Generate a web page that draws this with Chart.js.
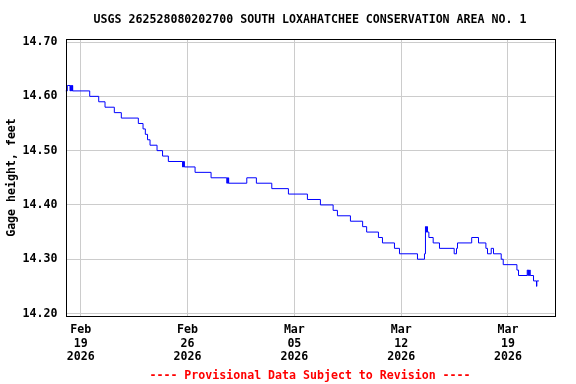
<!DOCTYPE html>
<html>
<head>
<meta charset="utf-8">
<script src="https://cdn.jsdelivr.net/npm/chart.js@4.4.1/dist/chart.umd.min.js"></script>
<style>
  body { margin: 0; background: #fff; }
  #wrap { width: 576px; height: 384px; }
</style>
</head>
<body>
<div id="wrap"><canvas id="gage" width="576" height="384"></canvas></div>
<script>
// days since Feb 18 2026 00:00, each point = time the reading changed
const dayOffsets = [
  0, 0.118, 0.295, 0.328, 0.374, 0.400, 0.439, 0.459, 0.472,
  1.587, 2.177, 2.590, 3.200, 3.659, 4.774, 5.082, 5.233, 5.377, 5.541,
  6.000, 6.361, 6.741, 7.672, 7.705, 7.738, 7.770, 7.790,
  8.492, 9.541, 10.570, 10.610, 10.643, 10.675, 10.695,
  11.882, 12.511, 13.521, 14.610, 15.856, 16.708, 17.541, 17.823,
  18.675, 19.475, 19.738, 20.511, 20.774, 21.561, 21.889, 23.069,
  23.528, 23.593, 23.626, 23.652, 23.679, 23.705, 23.725, 23.816,
  24.098, 24.511, 25.475, 25.626, 25.692, 26.623, 27.069, 27.554,
  27.659, 27.902, 28.052, 28.557, 28.689, 29.587, 29.692,
  30.262, 30.302, 30.341, 30.380, 30.420, 30.459,
  30.675, 30.872, 30.892, 31.030
];
const gageHeights = [
  14.61, 14.62, 14.61, 14.62, 14.61, 14.62, 14.61, 14.62, 14.61,
  14.60, 14.59, 14.58, 14.57, 14.56, 14.55, 14.54, 14.53, 14.52, 14.51,
  14.50, 14.49, 14.48, 14.47, 14.48, 14.47, 14.48, 14.47,
  14.46, 14.45, 14.44, 14.45, 14.44, 14.45, 14.44,
  14.45, 14.44, 14.43, 14.42, 14.41, 14.40, 14.39, 14.38,
  14.37, 14.36, 14.35, 14.34, 14.33, 14.32, 14.31, 14.30,
  14.31, 14.36, 14.35, 14.36, 14.35, 14.36, 14.35, 14.34,
  14.33, 14.32, 14.31, 14.32, 14.33, 14.34, 14.33, 14.32,
  14.31, 14.32, 14.31, 14.30, 14.29, 14.28, 14.27,
  14.28, 14.27, 14.28, 14.27, 14.28, 14.27,
  14.26, 14.25, 14.26, 14.26
];
const yTicks = [14.20, 14.30, 14.40, 14.50, 14.60, 14.70];
const xTickDays = [1, 8, 15, 22, 29];
const xTickLabels = [
  ["Feb", "19", "2026"],
  ["Feb", "26", "2026"],
  ["Mar", "05", "2026"],
  ["Mar", "12", "2026"],
  ["Mar", "19", "2026"]
];
const chartTitle = "USGS 262528080202700 SOUTH LOXAHATCHEE CONSERVATION AREA NO. 1";
const footNote = "---- Provisional Data Subject to Revision ----";

Chart.defaults.font.family = "'DejaVu Sans Mono', monospace";
Chart.defaults.font.size = 11.6;
Chart.defaults.font.weight = "bold";
Chart.defaults.font.lineHeight = 1.2;
Chart.defaults.color = "#000";

// black box round the plot area
const frame = {
  id: "frame",
  afterDraw(chart) {
    const { ctx, chartArea } = chart;
    ctx.save();
    ctx.strokeStyle = "#000";
    ctx.lineWidth = 1;
    ctx.strokeRect(
      Math.round(chartArea.left) + 0.5,
      Math.round(chartArea.top) + 0.5,
      Math.round(chartArea.right - chartArea.left),
      Math.round(chartArea.bottom - chartArea.top)
    );
    ctx.restore();
  },
};

const points = dayOffsets.map((d, i) => ({ x: d, y: gageHeights[i] }));

new Chart(document.getElementById("gage"), {
  type: "line",
  data: {
    datasets: [
      {
        data: points,
        borderColor: "#0000ff",
        borderWidth: 1,
        pointRadius: 0,
        stepped: true,
        fill: false,
      },
    ],
  },
  options: {
    responsive: false,
    animation: false,
    devicePixelRatio: 1,
    layout: { padding: { left: 0, right: 21.5, top: 0, bottom: 0 } },
    plugins: {
      legend: { display: false },
      tooltip: { enabled: false },
      title: {
        display: true,
        text: chartTitle,
        fullSize: false,
        padding: { top: 13.5, bottom: 11.6 },
      },
      subtitle: {
        display: true,
        text: footNote,
        position: "bottom",
        fullSize: false,
        color: "#ff0000",
        font: { family: "'DejaVu Sans Mono', monospace", size: 11.6, weight: "bold" },
        padding: { top: 4, bottom: 1.5 },
      },
    },
    scales: {
      x: {
        type: "linear",
        min: 0,
        max: 32.05,
        afterBuildTicks(scale) {
          scale.ticks = xTickDays.map((v) => ({ value: v }));
        },
        afterFit(scale) {
          scale.height = 384 - 316 - 19.42;
        },
        grid: { color: "#cccccc", drawTicks: false },
        border: { display: false },
        ticks: {
          padding: 7,
          maxRotation: 0,
          autoSkip: false,
          font: { lineHeight: 1.18 },
          callback(value) {
            const i = xTickDays.indexOf(value);
            return i >= 0 ? xTickLabels[i] : "";
          },
        },
      },
      y: {
        min: 14.1954,
        max: 14.7056,
        afterBuildTicks(scale) {
          scale.ticks = yTicks.map((v) => ({ value: v }));
        },
        afterFit(scale) {
          scale.width = 65.5;
        },
        grid: { color: "#cccccc", drawTicks: false },
        border: { display: false },
        title: {
          display: true,
          text: "Gage height, feet",
          padding: { top: 5, bottom: 0 },
        },
        ticks: {
          padding: 8,
          callback(value) {
            return value.toFixed(2);
          },
        },
      },
    },
  },
  plugins: [frame],
});
</script>
</body>
</html>
